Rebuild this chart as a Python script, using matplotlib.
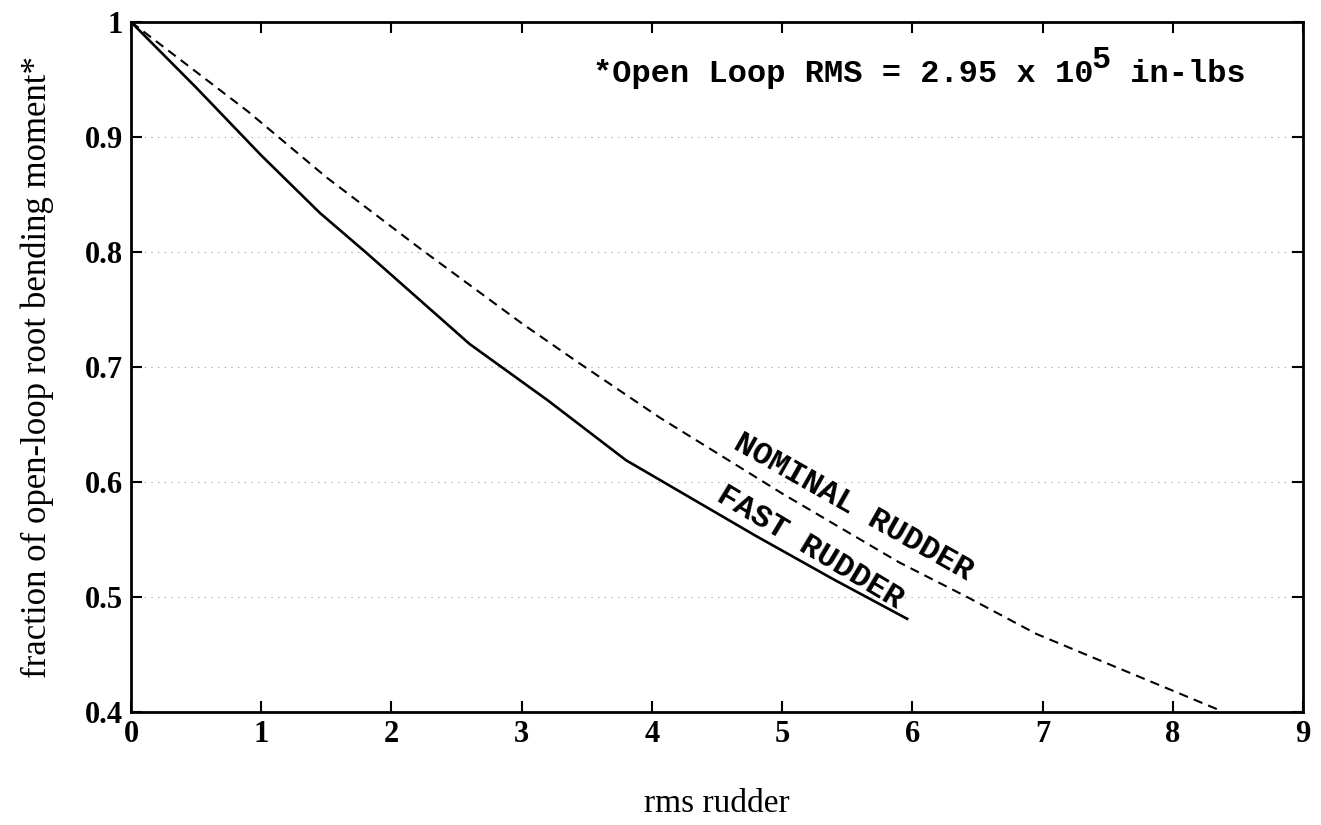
import matplotlib.pyplot as plt

# ---------------------------
# Data: root bending moment vs rms rudder
# ---------------------------

fast_x = [0.0, 0.5, 1.0, 1.45, 1.8, 2.2, 2.6, 3.2, 3.8, 4.3, 4.8, 5.4, 5.96]
fast_y = [1.0, 0.943, 0.884, 0.834, 0.80, 0.76, 0.72, 0.671, 0.619,
          0.586, 0.553, 0.515, 0.481]

nominal_x = [0.0, 0.9, 1.5, 2.22, 3.0, 3.42, 4.06, 4.63, 5.0, 5.9,
             6.42, 6.95, 7.5, 8.0, 8.37]
nominal_y = [1.0, 0.922, 0.865, 0.803, 0.738, 0.705, 0.656, 0.616, 0.59,
             0.53, 0.50, 0.468, 0.442, 0.4185, 0.401]

x_ticks = [0, 1, 2, 3, 4, 5, 6, 7, 8, 9]
y_ticks = [0.4, 0.5, 0.6, 0.7, 0.8, 0.9, 1.0]
y_tick_labels = ["0.4", "0.5", "0.6", "0.7", "0.8", "0.9", "1"]

serif = "Liberation Serif"
mono = "Liberation Mono"

# ---------------------------
# Figure
# ---------------------------

fig = plt.figure(figsize=(13.21, 8.25), dpi=100)
ax = fig.add_axes([0.0992, 0.137, 0.8872, 0.8363])

ax.plot(fast_x, fast_y, color="black", linewidth=1.9)
ax.plot(nominal_x, nominal_y, color="black", linewidth=1.5,
        linestyle=(0, (4.5, 3)))

ax.set_xlim(0, 9)
ax.set_ylim(0.4, 1.0)
ax.set_xticks(x_ticks)
ax.set_yticks(y_ticks)
ax.set_yticklabels(y_tick_labels)

ax.tick_params(direction="in", length=8, width=1.5, top=True, right=True,
               labelsize=22, pad=6)
for lbl in ax.get_xticklabels() + ax.get_yticklabels():
    lbl.set_fontfamily(serif)
    lbl.set_fontweight("bold")

for side in ax.spines.values():
    side.set_linewidth(2)

ax.yaxis.grid(True, linestyle=(0, (1, 5)), color="0.6", linewidth=0.8)

ax.set_xlabel("rms rudder", fontfamily=serif, fontsize=24, labelpad=28)
ax.set_ylabel("fraction of open-loop root bending moment*",
              fontfamily=serif, fontsize=25, labelpad=22)

# ---------------------------
# Annotations (monospace, superscript built by hand)
# ---------------------------

fs = 23
char_w = 0.6 * fs
note_xy = (3.55, 0.948)

ax.annotate("*Open Loop RMS = 2.95 x 10", xy=note_xy, xytext=(0, 0),
            textcoords="offset points", fontfamily=mono, fontweight="bold",
            fontsize=fs, ha="left", va="baseline")
ax.annotate("5", xy=note_xy, xytext=(26 * char_w, 10),
            textcoords="offset points", fontfamily=mono, fontweight="bold",
            fontsize=fs, ha="left", va="baseline")
ax.annotate(" in-lbs", xy=note_xy, xytext=(27 * char_w, 0),
            textcoords="offset points", fontfamily=mono, fontweight="bold",
            fontsize=fs, ha="left", va="baseline")

ax.text(5.545, 0.578, "NOMINAL RUDDER", fontfamily=mono, fontweight="bold",
        fontsize=fs, rotation=-29.5, rotation_mode="anchor",
        ha="center", va="center")
ax.text(5.215, 0.543, "FAST RUDDER", fontfamily=mono, fontweight="bold",
        fontsize=fs, rotation=-31, rotation_mode="anchor",
        ha="center", va="center")

plt.savefig("out.png", dpi=100)
